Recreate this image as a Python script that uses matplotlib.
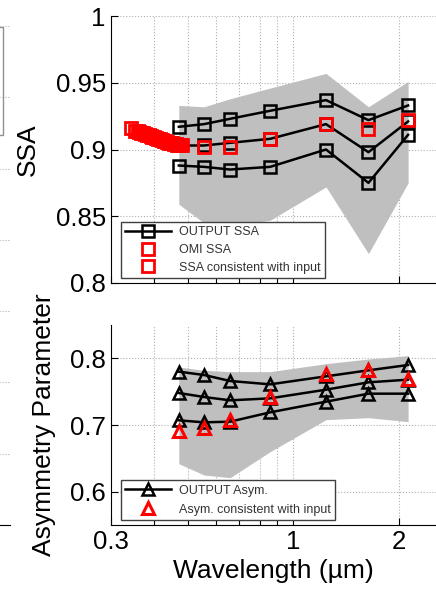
import matplotlib
matplotlib.use("Agg")
import matplotlib.pyplot as plt
from matplotlib.patches import Rectangle

plt.rcParams['font.family'] = ['Liberation Sans', 'DejaVu Sans']

# MODIS-like wavelengths (um)
wl = [0.47, 0.555, 0.659, 0.858, 1.24, 1.64, 2.13]

# SSA panel
ssa_hi = [0.917, 0.919, 0.923, 0.929, 0.937, 0.922, 0.933]
ssa_mid = [0.903, 0.903, 0.905, 0.908, 0.919, 0.898, 0.921]
ssa_lo = [0.888, 0.887, 0.885, 0.887, 0.900, 0.875, 0.911]
ssa_band_hi = [0.933, 0.932, 0.938, 0.946, 0.957, 0.932, 0.951]
ssa_band_lo = [0.859, 0.845, 0.843, 0.847, 0.872, 0.822, 0.875]

omi_wl = [0.342, 0.352, 0.358, 0.362, 0.366, 0.370, 0.375, 0.380, 0.385, 0.390,
          0.395, 0.400, 0.405, 0.410, 0.415, 0.420, 0.425, 0.430, 0.435, 0.440,
          0.445, 0.450, 0.455, 0.460, 0.465, 0.470, 0.475, 0.480]
omi_ssa = [0.916, 0.914, 0.9135, 0.913, 0.9125, 0.912, 0.9115, 0.911, 0.9105, 0.910,
           0.9095, 0.909, 0.9085, 0.908, 0.9075, 0.907, 0.9065, 0.906, 0.9055, 0.905,
           0.9048, 0.9045, 0.9042, 0.904, 0.9037, 0.9035, 0.9032, 0.903]
cons_wl = [0.555, 0.659, 0.858, 1.24, 1.64, 2.13]
cons_ssa = [0.902, 0.902, 0.908, 0.919, 0.915, 0.922]

# Asymmetry panel
asym_hi = [0.780, 0.775, 0.766, 0.761, 0.773, 0.782, 0.790]
asym_mid = [0.748, 0.742, 0.737, 0.740, 0.753, 0.764, 0.768]
asym_lo = [0.707, 0.704, 0.705, 0.719, 0.735, 0.747, 0.747]
asym_red = [0.691, 0.695, 0.708, 0.742, 0.777, 0.782, 0.769]
asym_band_hi = [0.787, 0.782, 0.780, 0.780, 0.792, 0.799, 0.804]
asym_band_lo = [0.642, 0.625, 0.621, 0.660, 0.708, 0.711, 0.705]

xticks = [0.3, 1, 2]
xticklabels = ['0.3', '1', '2']
xminor = [0.4, 0.5, 0.6, 0.7, 0.8, 0.9]

W, H = 436, 593
fig = plt.figure(figsize=(W / 100, H / 100), dpi=100)

# cropped neighbour panel on the far left
ax0 = fig.add_axes([-0.3, 68 / H, 0.3 + 10 / W, 499 / H])
ax0.set_ylim(0, 7)
ax0.set_yticks(range(8))
ax0.set_xticks([])
ax0.tick_params(axis='y', length=0, labelleft=False)
ax0.grid(axis='y', linestyle=':', color='#b0b0b0', linewidth=0.8)
for s in ['top', 'right', 'left']:
    ax0.spines[s].set_visible(False)
fig.patches.append(Rectangle((-0.05, (H - 135) / H), 0.05 + 3 / W, 108 / H,
                             transform=fig.transFigure, fill=False,
                             edgecolor='#909090', linewidth=1))

ax1 = fig.add_axes([110.7 / W, (H - 283) / H, (W - 110.7) / W, 267 / H])
ax2 = fig.add_axes([110.7 / W, (H - 525) / H, (W - 110.7) / W, 200 / H])

for ax in (ax1, ax2):
    ax.set_xscale('log')
    ax.set_xlim(0.3, 2.56)
    ax.set_xticks(xticks)
    ax.set_xticks(xminor, minor=True)
    ax.set_xticklabels(xticklabels)
    ax.xaxis.set_minor_formatter(matplotlib.ticker.NullFormatter())
    ax.spines['top'].set_visible(False)
    ax.spines['right'].set_visible(False)
    ax.tick_params(which='both', direction='in', length=5, width=0.8, labelsize=18.5)
    ax.grid(which='both', linestyle=':', color='#b0b0b0', linewidth=0.8)
    ax.set_axisbelow(True)

# SSA
ax1.fill_between(wl, ssa_band_lo, ssa_band_hi, color='#bfbfbf', linewidth=0, zorder=1)
ax1.plot(wl, ssa_hi, '-s', color='black', lw=1.8, ms=8, mfc='none', mew=1.8,
         label='OUTPUT SSA', zorder=3)
ax1.plot(wl, ssa_mid, '-s', color='black', lw=1.8, ms=8, mfc='none', mew=1.8, zorder=3)
ax1.plot(wl, ssa_lo, '-s', color='black', lw=1.8, ms=8, mfc='none', mew=1.8, zorder=3)
ax1.plot(omi_wl, omi_ssa, 's', color='red', ms=8, mfc='none', mew=2,
         label='OMI SSA', zorder=4)
ax1.plot(cons_wl, cons_ssa, 's', color='red', ms=8, mfc='none', mew=2,
         label='SSA consistent with input', zorder=4)
ax1.set_ylim(0.8, 1.0)
ax1.set_yticks([0.8, 0.85, 0.9, 0.95, 1.0])
ax1.set_yticklabels(['0.8', '0.85', '0.9', '0.95', '1'])
ax1.tick_params(axis='x', labelbottom=False)
ax1.set_ylabel('SSA', fontsize=19, labelpad=11)
ax1.legend(loc='lower left', bbox_to_anchor=(10 / 325.3, 5 / 267), borderaxespad=0,
           fontsize=9, handlelength=3.7, handletextpad=0.6, labelspacing=0.45,
           borderpad=0.35, fancybox=False, framealpha=1, edgecolor='#404040',
           labelcolor='#333333')

# Asymmetry parameter
ax2.fill_between(wl, asym_band_lo, asym_band_hi, color='#bfbfbf', linewidth=0, zorder=1)
ax2.plot(wl, asym_hi, '-^', color='black', lw=1.8, ms=9, mfc='none', mew=1.8,
         label='OUTPUT Asym.', zorder=3)
ax2.plot(wl, asym_mid, '-^', color='black', lw=1.8, ms=9, mfc='none', mew=1.8, zorder=3)
ax2.plot(wl, asym_lo, '-^', color='black', lw=1.8, ms=9, mfc='none', mew=1.8, zorder=3)
ax2.plot(wl, asym_red, '^', color='red', ms=9, mfc='none', mew=2.2,
         label='Asym. consistent with input', zorder=4)
ax2.set_ylim(0.55, 0.85)
ax2.set_yticks([0.6, 0.7, 0.8])
ax2.set_yticklabels(['0.6', '0.7', '0.8'])
ax2.set_ylabel('Asymmetry Parameter', fontsize=19, labelpad=10)
ax2.set_xlabel('Wavelength (\u00b5m)', fontsize=19, labelpad=4)
ax2.legend(loc='lower left', bbox_to_anchor=(10 / 325.3, 5 / 200), borderaxespad=0,
           fontsize=9, handlelength=3.7, handletextpad=0.6, labelspacing=0.55,
           borderpad=0.35, fancybox=False, framealpha=1, edgecolor='#404040',
           labelcolor='#333333')

fig.savefig('out.png', dpi=100)
